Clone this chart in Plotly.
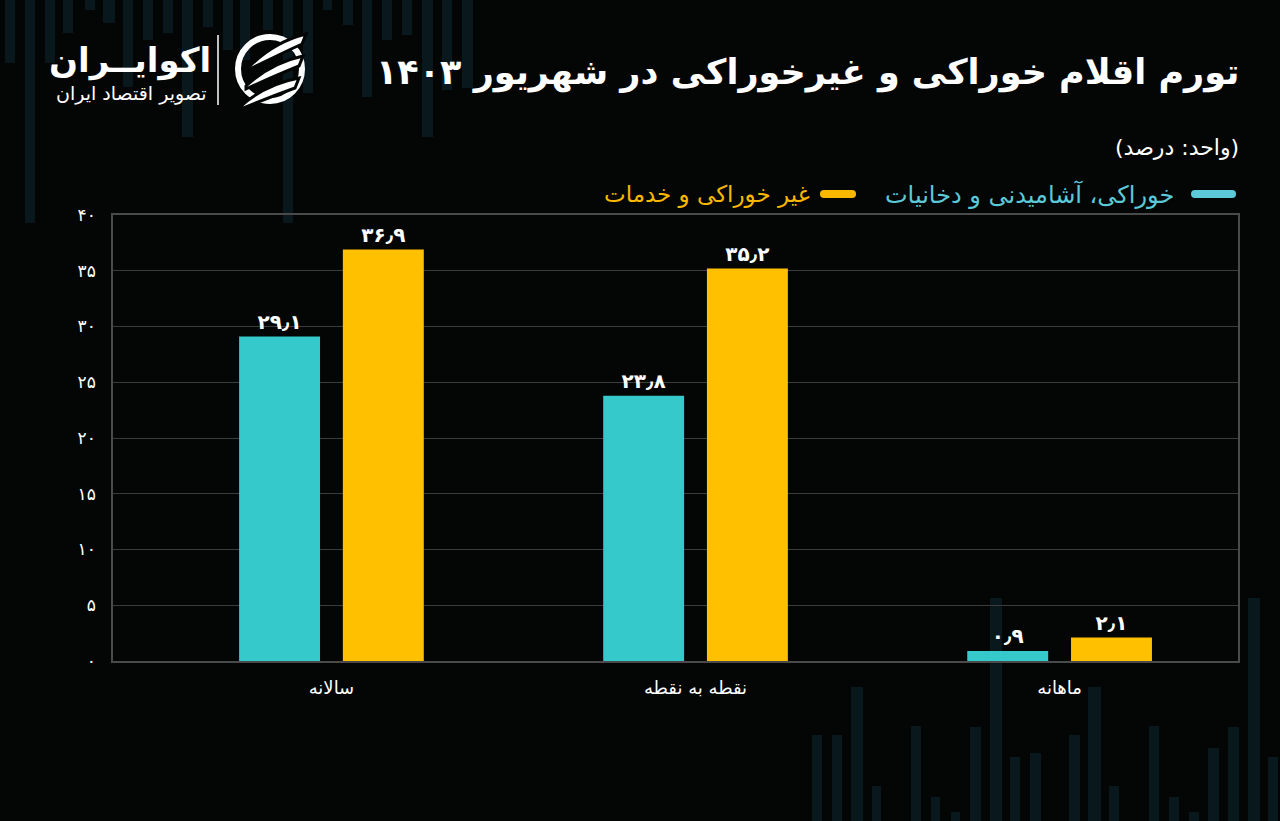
import plotly.graph_objects as go

# ---------------- data ----------------
categories = ["سالانه", "نقطه به نقطه", "ماهانه"]
food_values = [29.1, 23.8, 0.9]
nonfood_values = [36.9, 35.2, 2.1]
series_names = ["خوراکی، آشامیدنی و دخانیات", "غیر خوراکی و خدمات"]
y_tick_values = [0, 5, 10, 15, 20, 25, 30, 35, 40]
title_text = "تورم اقلام خوراکی و غیرخوراکی در شهریور ۱۴۰۳"
unit_text = "(واحد: درصد)"
brand_name = "اکوایــران"
brand_tagline = "تصویر اقتصاد ایران"

# ---------------- style ----------------
CYAN = "#35C9CB"
YELLOW = "#FFC000"
LEG_CYAN = "#5CC9D9"
LEG_YELLOW = "#F9B800"
BG = "#040505"
DECO = "#08181D"
FONT = "DejaVu Sans"
W, H = 1280, 821
ML, MR, MT, MB = 113, 42, 215, 160
PW, PH = W - ML - MR, H - MT - MB

fa_digits = str.maketrans("0123456789.", "۰۱۲۳۴۵۶۷۸۹٫")


def fa(v):
    return f"{v:g}".translate(fa_digits)


def px(x):
    return (x - ML) / PW


def py(y):
    return (H - MB - y) / PH


fig = go.Figure()
for name, vals, col in [(series_names[0], food_values, CYAN),
                        (series_names[1], nonfood_values, YELLOW)]:
    fig.add_trace(go.Bar(
        x=categories, y=vals, name=name,
        marker=dict(color=col, line=dict(width=0)),
        text=[fa(v) for v in vals], textposition="outside", cliponaxis=False,
        textfont=dict(family=FONT, size=20, color="#FFFFFF", weight="bold"),
        showlegend=False,
    ))

fig.update_layout(
    width=W, height=H,
    paper_bgcolor=BG, plot_bgcolor="rgba(0,0,0,0)",
    margin=dict(l=ML, r=MR, t=MT, b=MB),
    barmode="group", bargap=0.43, bargroupgap=0.22,
    font=dict(family=FONT, color="#FFFFFF"),
    xaxis=dict(
        range=[-0.6, 2.49], showgrid=False, showline=True, linecolor="#4a4a4a",
        linewidth=1.5, mirror=True, ticks="", ticklabelstandoff=10,
        tickfont=dict(size=18, color="#FFFFFF"), zeroline=False,
    ),
    yaxis=dict(
        range=[0, 40], tickvals=y_tick_values, ticktext=[fa(v) for v in y_tick_values],
        showgrid=True, gridcolor="#3c3c3c", gridwidth=1.2, showline=True,
        linecolor="#4a4a4a", linewidth=1.5, mirror=True, zeroline=False,
        ticks="", ticklabelstandoff=12, tickfont=dict(size=17, color="#FFFFFF"),
    ),
)

# ---------------- decorative background stripes ----------------
deco_top = [(5, 15, 63), (25, 35, 223), (45, 55, 63), (63, 73, 33), (85, 95, 10),
            (103, 115, 23), (123, 133, 87), (143, 153, 40), (163, 173, 33),
            (182, 193, 137), (203, 213, 27), (223, 233, 50), (240, 250, 60),
            (263, 273, 30), (283, 293, 223), (303, 313, 93), (323, 332, 10),
            (343, 353, 25), (362, 372, 97), (382, 392, 40), (402, 412, 35),
            (422, 433, 137), (442, 452, 90), (462, 473, 88)]
deco_bottom = [(812, 822, 735), (832, 842, 735), (851, 863, 687), (872, 881, 786),
               (911, 921, 726), (931, 940, 797), (951, 960, 812), (970, 981, 727),
               (990, 1002, 598), (1010, 1020, 757), (1030, 1041, 753),
               (1069, 1080, 735), (1088, 1101, 687), (1109, 1119, 786),
               (1149, 1159, 726), (1169, 1179, 797), (1189, 1199, 812),
               (1208, 1219, 748), (1228, 1239, 727), (1248, 1260, 598),
               (1268, 1278, 757)]
for x0, x1, yb in deco_top:
    fig.add_shape(type="rect", xref="paper", yref="paper", layer="below",
                  x0=px(x0), x1=px(x1), y0=py(0), y1=py(yb),
                  fillcolor=DECO, line=dict(width=0))
for x0, x1, yt in deco_bottom:
    fig.add_shape(type="rect", xref="paper", yref="paper", layer="below",
                  x0=px(x0), x1=px(x1), y0=py(yt), y1=py(H),
                  fillcolor=DECO, line=dict(width=0))

# ---------------- title & subtitle ----------------
fig.add_annotation(
    text=f"<b>{title_text}</b>", xref="paper", yref="paper",
    x=px(1241), xanchor="right", y=py(72), yanchor="middle",
    showarrow=False, font=dict(size=35, color="#FFFFFF", family=FONT),
)
fig.add_annotation(
    text=unit_text, xref="paper", yref="paper",
    x=px(1241), xanchor="right", y=py(147), yanchor="middle",
    showarrow=False, font=dict(size=22, color="#FFFFFF", family=FONT),
)

# ---------------- legend (right-to-left) ----------------
def pill(x0, x1, yc, h, color):
    r = h / 2
    path = (f"M {px(x0 + r)},{py(yc - r)} L {px(x1 - r)},{py(yc - r)} "
            f"Q {px(x1)},{py(yc - r)} {px(x1)},{py(yc)} "
            f"Q {px(x1)},{py(yc + r)} {px(x1 - r)},{py(yc + r)} "
            f"L {px(x0 + r)},{py(yc + r)} "
            f"Q {px(x0)},{py(yc + r)} {px(x0)},{py(yc)} "
            f"Q {px(x0)},{py(yc - r)} {px(x0 + r)},{py(yc - r)} Z")
    fig.add_shape(type="path", xref="paper", yref="paper", path=path,
                  fillcolor=color, line=dict(width=0))


LEG_Y = 194
pill(1191, 1236, LEG_Y, 8, LEG_CYAN)
pill(820, 856, LEG_Y, 8, LEG_YELLOW)
fig.add_annotation(
    text=series_names[0], xref="paper", yref="paper",
    x=px(1176), xanchor="right", y=py(LEG_Y), yanchor="middle",
    showarrow=False, font=dict(size=24, color=LEG_CYAN, family=FONT),
)
fig.add_annotation(
    text=series_names[1], xref="paper", yref="paper",
    x=px(812), xanchor="right", y=py(LEG_Y), yanchor="middle",
    showarrow=False, font=dict(size=23, color=LEG_YELLOW, family=FONT),
)

# ---------------- logo ----------------
fig.add_annotation(
    text=f"<b>{brand_name}</b>", xref="paper", yref="paper",
    x=px(130), xanchor="center", y=py(60), yanchor="middle", showarrow=False,
    font=dict(size=34, color="#FFFFFF", family=FONT),
)
fig.add_annotation(
    text=brand_tagline, xref="paper", yref="paper",
    x=px(131), xanchor="center", y=py(93), yanchor="middle", showarrow=False,
    font=dict(size=19, color="#FFFFFF", family=FONT),
)
fig.add_shape(type="line", xref="paper", yref="paper",
              x0=px(218), x1=px(218), y0=py(35), y1=py(105),
              line=dict(color="#FFFFFF", width=1.5))
fig.add_shape(type="circle", xref="paper", yref="paper",
              x0=px(238), x1=px(302), y0=py(101), y1=py(37),
              line=dict(color="#FFFFFF", width=6))
for (ax, ay), (bx, by) in [((250, 66), (306, 34)), ((246, 86), (303, 56)),
                           ((241, 106), (299, 78))]:
    path = (f"M {px(ax)},{py(ay)} Q {px((ax + bx) / 2 - 4)},{py((ay + by) / 2 - 8)} "
            f"{px(bx)},{py(by)} L {px(bx - 4)},{py(by + 10)} "
            f"Q {px((ax + bx) / 2)},{py((ay + by) / 2 + 5)} {px(ax)},{py(ay + 3)} Z")
    fig.add_shape(type="path", xref="paper", yref="paper", path=path,
                  fillcolor="#FFFFFF", line=dict(color=BG, width=3))

fig.write_html("out.html")
